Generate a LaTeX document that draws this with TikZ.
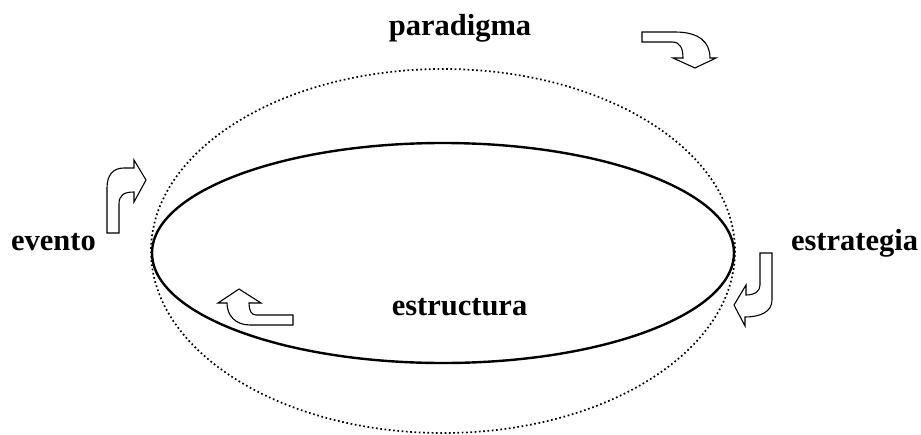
\documentclass[tikz,border=0pt]{standalone}
\usepackage{fontspec}
\setmainfont{Liberation Serif}
\begin{document}
\begin{tikzpicture}[x=1pt,y=-1pt,
  lbl/.style={font=\fontsize{30.5}{36}\selectfont\bfseries, inner sep=0pt, anchor=base},
  blockarrow/.style={draw=black, fill=white, line width=1.1pt, line join=miter},
  solidring/.style={draw=black, line width=2.4pt},
  dotring/.style={draw=black, line width=1.7pt, dash pattern=on 1.7pt off 2.6pt}]
\useasboundingbox (0,0) rectangle (921,434);
% rings
\path[dotring] (443,251) ellipse [x radius=292, y radius=182];
\path[solidring] (443,253) ellipse [x radius=291, y radius=110];
% labels
\node[lbl] (paradigma) at (460,35) {paradigma};
\node[lbl] (evento) at (53.5,250) {evento};
\node[lbl] (estrategia) at (854.5,250) {estrategia};
\node[lbl] (estructura) at (459.5,315) {estructura};
% block arrows
\path[blockarrow] (642,32) -- (675,32) .. controls (699,32) and (710,42) .. (710,58)
  -- (716,58) -- (695,68) -- (673,58) -- (683,58)
  .. controls (683,48) and (680,42) .. (672,42) -- (642,42) -- cycle;
\path[blockarrow] (107,233) -- (107,188) .. controls (107,175) and (113,168) .. (124,168)
  -- (134,168) -- (134,160) -- (146,180) -- (134,202) -- (134,192)
  .. controls (124,192) and (119,195) .. (119,204) -- (119,233) -- cycle;
\path[blockarrow] (760,253) -- (772,253) -- (772,300) .. controls (772,312) and (760,317) .. (745,317)
  -- (745,326) -- (734,305) -- (746,285) -- (746,295)
  .. controls (755,295) and (760,291) .. (760,285) -- cycle;
\path[blockarrow] (293,315) -- (293,325) -- (250,325) .. controls (235,325) and (227,315) .. (227,303)
  -- (218,303) -- (239,289) -- (261,303) -- (249,303)
  .. controls (249,310) and (251,315) .. (256,315) -- cycle;
\end{tikzpicture}
\end{document}
